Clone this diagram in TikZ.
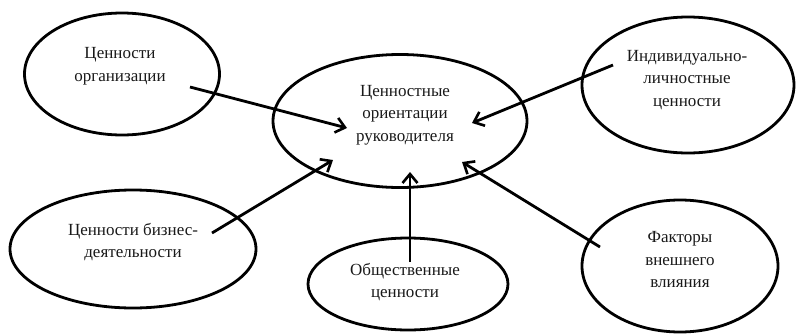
\documentclass[tikz,border=0pt]{standalone}
\usepackage{fontspec}
\setmainfont{Liberation Serif}
\newfontfamily\lblfont{Liberation Serif}
\usetikzlibrary{shapes.geometric,arrows.meta}
\begin{document}
\begin{tikzpicture}[x=1pt,y=-1pt,
  oval/.style={draw=black,line width=2.8pt,ellipse,inner sep=0pt},
  lbl/.style={align=center,font=\lblfont\fontsize{17}{22.5}\selectfont,inner sep=0pt,text=black!90},
  arr/.style={line width=2.8pt,-{Straight Barb[length=9pt,width=15pt,line width=2.6pt]}}]
\useasboundingbox (0,0) rectangle (796,335);
% ellipses
\node[oval,minimum width=195pt,minimum height=122pt] (org) at (122,74) {};
\node[oval,minimum width=254pt,minimum height=133pt] (cen) at (400,121) {};
\node[oval,minimum width=212pt,minimum height=136pt] (ind) at (688,85) {};
\node[oval,minimum width=246pt,minimum height=118pt] (biz) at (133,249) {};
\node[oval,minimum width=200pt,minimum height=92pt] (obs) at (408,284) {};
\node[oval,minimum width=196pt,minimum height=132pt] (fak) at (680,266) {};
% labels
\node[lbl] (torg) at (120,66) {Ценности\\организации};
\node[lbl] (tcen) at (405,115) {Ценностные\\ориентации\\руководителя};
\node[lbl] (tind) at (687,80) {Индивидуально-\\личностные\\ценности};
\node[lbl] (tbiz) at (133,242) {Ценности бизнес-\\деятельности};
\node[lbl] (tobs) at (405,282) {Общественные\\ценности};
\node[lbl] (tfak) at (680,260) {Факторы\\внешнего\\влияния};
% arrow ends
\coordinate (s1) at (190,87);  \coordinate (e1) at (347,128);
\coordinate (s2) at (613,65);  \coordinate (e2) at (472,123);
\coordinate (s3) at (212,233); \coordinate (e3) at (333,160);
\coordinate (s4) at (410,262); \coordinate (e4) at (410,172);
\coordinate (s5) at (600,247); \coordinate (e5) at (462,162);
\draw[arr] (s1) -- (e1);
\draw[arr] (s2) -- (e2);
\draw[arr] (s3) -- (e3);
\draw[arr] (s4) -- (e4);
\draw[arr] (s5) -- (e5);
\end{tikzpicture}
\end{document}
